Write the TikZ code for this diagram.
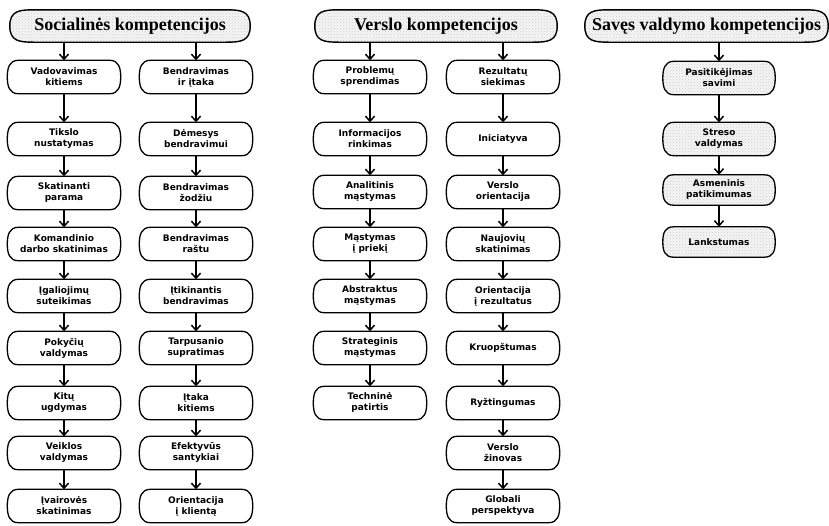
\documentclass[tikz,border=0pt]{standalone}
\usepackage{fontspec}
\setmainfont{Liberation Serif}
\newfontfamily\boxfont{DejaVu Sans}
\usetikzlibrary{arrows.meta,patterns,calc,backgrounds}
% outline with straight top/bottom and bulging rounded sides
% #1 style, #2 node, #3 inset of the straight part, #4 control length
\newcommand\bulgeoutline[4]{%
  \path[#1] ($(#2.north west)+(#3,0)$) -- ($(#2.north east)+(-#3,0)$)
    .. controls +(#4,0) and +(0,-#4) .. (#2.east)
    .. controls +(0,#4) and +(#4,0) .. ($(#2.south east)+(-#3,0)$)
    -- ($(#2.south west)+(#3,0)$)
    .. controls +(-#4,0) and +(0,#4) .. (#2.west)
    .. controls +(0,-#4) and +(-#4,0) .. cycle;}
\begin{document}
\begin{tikzpicture}[x=1pt,y=-1pt]
\tikzset{
  texture/.style={preaction={fill=gray!8}, pattern=crosshatch dots, pattern color=gray!40},
  hdr/.style={minimum width=#1, minimum height=32pt, inner sep=0pt,
    font=\bfseries\fontsize{18}{20}\selectfont},
  hdrline/.style={draw, line width=1.4pt, texture},
  cbox/.style={minimum width=113pt, minimum height=33pt, inner sep=0pt, align=center,
    font=\boxfont\bfseries\fontsize{9}{11}\selectfont},
  boxline/.style={draw, line width=1.3pt},
  gboxline/.style={boxline, texture},
  arr/.style={-{Straight Barb[length=5pt,width=9pt]}, line width=1.5pt},
}
\useasboundingbox (0,0) rectangle (829,525);

% headers
\node[hdr=240pt] (h1) at (130,26) {Socialinės kompetencijos};
\node[hdr=242pt] (h2) at (436,26) {Verslo kompetencijos};
\node[hdr=243pt] (h3) at (706.5,26) {Savęs valdymo kompetencijos};

% column 1
\node[cbox] (a1) at (64,77)  {Vadovavimas\\kitiems};
\node[cbox] (a2) at (64,139) {Tikslo\\nustatymas};
\node[cbox] (a3) at (64,193) {Skatinanti\\parama};
\node[cbox] (a4) at (64,244) {Komandinio\\darbo skatinimas};
\node[cbox] (a5) at (64,296) {Įgaliojimų\\suteikimas};
\node[cbox] (a6) at (64,348) {Pokyčių\\valdymas};
\node[cbox] (a7) at (64,403) {Kitų\\ugdymas};
\node[cbox] (a8) at (64,453) {Veiklos\\valdymas};
\node[cbox] (a9) at (64,506) {Įvairovės\\skatinimas};

% column 2
\node[cbox] (b1) at (196,77)  {Bendravimas\\ir įtaka};
\node[cbox] (b2) at (196,139) {Dėmesys\\bendravimui};
\node[cbox] (b3) at (196,193) {Bendravimas\\žodžiu};
\node[cbox] (b4) at (196,244) {Bendravimas\\raštu};
\node[cbox] (b5) at (196,296) {Įtikinantis\\bendravimas};
\node[cbox] (b6) at (196,348) {Tarpusanio\\supratimas};
\node[cbox] (b7) at (196,403) {Įtaka\\kitiems};
\node[cbox] (b8) at (196,453) {Efektyvūs\\santykiai};
\node[cbox] (b9) at (196,506) {Orientacija\\į klientą};

% column 3
\node[cbox] (c1) at (370,77)  {Problemų\\sprendimas};
\node[cbox] (c2) at (370,139) {Informacijos\\rinkimas};
\node[cbox] (c3) at (370,192) {Analitinis\\mąstymas};
\node[cbox] (c4) at (370,244) {Mąstymas\\į priekį};
\node[cbox] (c5) at (370,296) {Abstraktus\\mąstymas};
\node[cbox] (c6) at (370,348) {Strateginis\\mąstymas};
\node[cbox] (c7) at (370,403) {Techninė\\patirtis};

% column 4
\node[cbox] (d1) at (503,77)  {Rezultatų\\siekimas};
\node[cbox] (d2) at (503,139) {Iniciatyva};
\node[cbox] (d3) at (503,192) {Verslo\\orientacija};
\node[cbox] (d4) at (503,244) {Naujovių\\skatinimas};
\node[cbox] (d5) at (503,296) {Orientacija\\į rezultatus};
\node[cbox] (d6) at (503,348) {Kruopštumas};
\node[cbox] (d7) at (503,403) {Ryžtingumas};
\node[cbox] (d8) at (503,453) {Verslo\\žinovas};
\node[cbox] (d9) at (503,506) {Globali\\perspektyva};

% column 5
\node[cbox, minimum width=112pt] (e1) at (719,78)  {Pasitikėjimas\\savimi};
\node[cbox, minimum width=112pt] (e2) at (719,139) {Streso\\valdymas};
\node[cbox, minimum width=112pt, minimum height=30pt] (e3) at (719,190) {Asmeninis\\patikimumas};
\node[cbox, minimum width=112pt, minimum height=30pt] (e4) at (719,242) {Lankstumas};

% outlines
\begin{scope}[on background layer]
  \foreach \h in {h1,h2,h3} {\bulgeoutline{hdrline}{\h}{24}{15}}
  \foreach \n in {a1,a2,a3,a4,a5,a6,a7,a8,a9,b1,b2,b3,b4,b5,b6,b7,b8,b9,
                  c1,c2,c3,c4,c5,c6,c7,d1,d2,d3,d4,d5,d6,d7,d8,d9}
    {\bulgeoutline{boxline}{\n}{11}{9}}
  \foreach \n in {e1,e2,e3,e4} {\bulgeoutline{gboxline}{\n}{11}{9}}
\end{scope}

% arrows from headers
\draw[arr] (h1.south -| a1.north) -- (a1.north);
\draw[arr] (h1.south -| b1.north) -- (b1.north);
\draw[arr] (h2.south -| c1.north) -- (c1.north);
\draw[arr] (h2.south -| d1.north) -- (d1.north);
\draw[arr] (h3.south -| e1.north) -- (e1.north);

% chains
\foreach \p/\q in {a1/a2,a2/a3,a3/a4,a4/a5,a5/a6,a6/a7,a7/a8,a8/a9,
                   b1/b2,b2/b3,b3/b4,b4/b5,b5/b6,b6/b7,b7/b8,b8/b9,
                   c1/c2,c2/c3,c3/c4,c4/c5,c5/c6,c6/c7,
                   d1/d2,d2/d3,d3/d4,d4/d5,d5/d6,d6/d7,d7/d8,d8/d9,
                   e1/e2,e2/e3,e3/e4}
  \draw[arr] (\p.south) -- (\q.north);
\end{tikzpicture}
\end{document}
